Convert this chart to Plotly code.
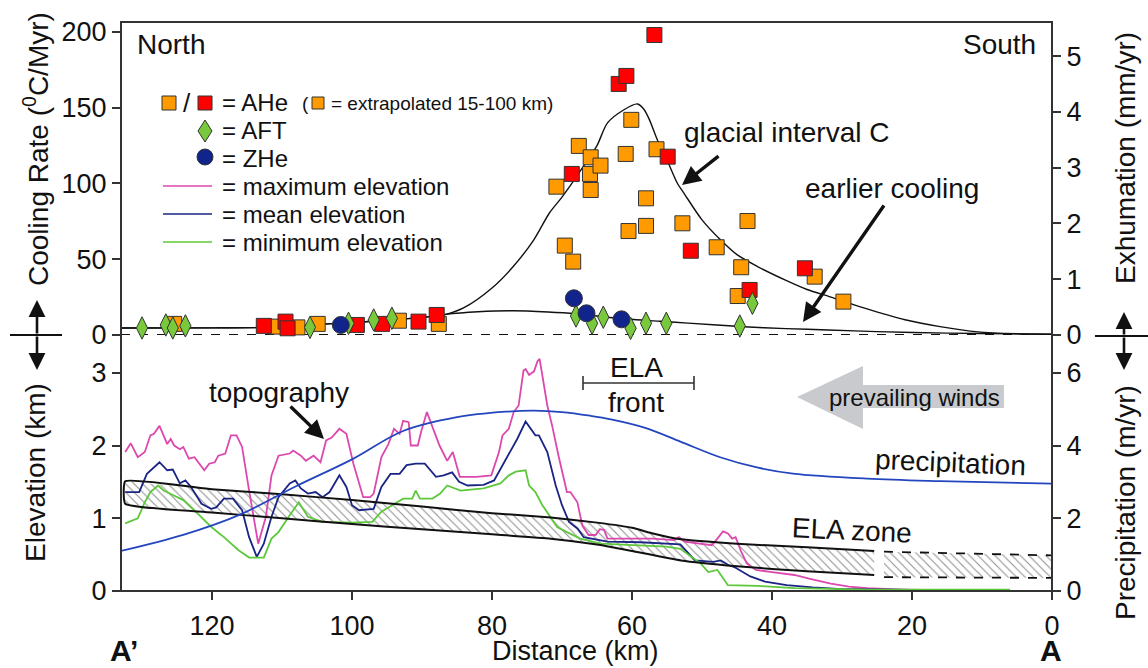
import plotly.graph_objects as go

# ---------------- data ----------------
# Thermochronology cooling rates (km along profile, cooling rate in C/Myr)
ahe_orange_km = [125.4, 110.9, 107.8, 104.9, 93.3, 87.6, 70.8, 69.6, 68.4, 67.6, 65.9, 66.0, 65.9,
                 64.5, 60.9, 60.1, 58.0, 58.0, 60.5, 56.5, 52.8, 47.9, 44.4, 44.9, 43.5, 33.9, 29.8]
ahe_orange_rate = [7.3, 5.5, 5.0, 7.3, 9.4, 7.3, 97.9, 59.0, 48.4, 124.8, 117.3, 106.3, 95.7,
                   111.8, 119.5, 142.0, 90.2, 72.0, 68.6, 122.6, 73.7, 57.9, 44.7, 25.7, 75.2, 38.5, 22.0]
ahe_red_km = [112.6, 109.5, 109.2, 99.3, 95.7, 90.5, 87.9, 68.6, 61.9, 60.8, 56.8, 54.9, 51.6, 43.2, 35.3]
ahe_red_rate = [6.0, 8.8, 4.4, 6.6, 7.3, 8.8, 13.2, 106.3, 165.7, 171.0, 198.0, 117.7, 55.6, 29.7, 44.0]
aft_km = [130.0, 126.6, 125.6, 123.8, 106.0, 100.5, 96.9, 94.3, 68.0, 65.7, 64.1, 60.2, 58.0, 55.1, 44.6, 42.8]
aft_rate = [4.6, 6.6, 4.6, 6.0, 5.0, 7.7, 9.9, 11.0, 12.5, 7.7, 11.7, 4.4, 7.7, 7.7, 5.9, 20.9]
zhe_km = [101.6, 68.3, 66.5, 61.5]
zhe_rate = [6.6, 24.2, 14.3, 10.3]

# Model cooling curves
glacial_curve = [(133, 4.6), (120, 4.7), (113, 4.9), (108, 5.8), (103.5, 7.3), (97, 9.0), (92, 10.8),
                 (88, 12.6), (86.6, 13.6), (84, 18), (80, 31), (77, 45), (74, 63), (71.8, 80.5),
                 (70, 91), (68, 104), (67, 111), (65, 125), (63.5, 140), (61.2, 148.5), (59.2, 152.5),
                 (58.3, 149), (57.5, 142), (56.4, 129), (55, 115.5), (53.5, 100), (52.5, 93),
                 (50, 76), (47.4, 63), (45, 53), (42, 45), (38, 36), (35, 30), (31.6, 25),
                 (27, 18), (21, 10), (16, 5.5), (10.6, 2), (5, 0.8), (0, 0.5)]
earlier_curve = [(133, 4.6), (120, 4.7), (113, 4.9), (108, 5.8), (103.5, 7.3), (97, 9.0), (92, 10.8),
                 (88, 12.6), (86.6, 13.6), (82, 15.3), (77, 16), (72, 15.2), (68, 14), (62, 11),
                 (56, 9), (52, 7.8), (44, 5.4), (38, 4.2), (32, 3.3), (25, 2.2), (15, 1.2),
                 (5, 0.7), (0, 0.5)]

# Topography (km along profile, elevation in km)
max_elev = [(132.4, 1.91), (131.6, 2.03), (130.6, 1.84), (129.6, 1.91), (128.8, 2.14), (128.3, 2.16),
            (127.5, 2.27), (126.4, 2.02), (125.9, 2.09), (125.4, 2.00), (124.6, 1.95), (124.1, 1.98),
            (123.3, 1.82), (122.5, 1.84), (121.1, 1.66), (120.4, 1.75), (119.6, 1.77), (119.1, 1.86),
            (118.1, 1.89), (117.3, 2.14), (116.5, 2.14), (115.7, 1.98), (114.7, 1.38), (113.4, 0.65),
            (112.3, 1.02), (111.5, 1.59), (110.5, 1.86), (108.9, 1.89), (108.4, 1.93), (107.3, 1.86),
            (106.6, 1.79), (105.5, 1.86), (104.5, 1.77), (103.7, 2.07), (102.9, 2.11), (101.8, 2.23),
            (100.8, 2.16), (99.8, 1.75), (98.4, 1.29), (97.4, 1.29), (96.9, 1.34), (95.8, 1.84),
            (94.8, 2.02), (94.0, 2.23), (93.2, 2.16), (92.7, 2.34), (91.9, 2.32), (91.6, 2.00),
            (90.6, 2.00), (90.1, 2.20), (89.3, 2.46), (88.3, 2.20), (87.5, 2.00), (86.4, 1.79),
            (85.6, 1.91), (84.6, 1.57), (82.2, 1.57), (80.1, 1.59), (79.0, 1.91), (78.5, 2.14),
            (77.6, 2.23), (76.9, 2.46), (76.2, 2.55), (75.5, 3.03), (75.2, 3.05), (74.7, 2.97),
            (74.0, 3.02), (73.5, 3.16), (73.2, 3.19), (72.1, 2.55), (71.4, 2.27), (70.5, 1.86),
            (69.3, 1.36), (68.8, 1.36), (67.8, 1.22), (67.1, 0.90), (66.2, 0.77), (65.2, 0.77),
            (64.6, 0.85), (64.0, 0.84), (63.5, 0.72), (61.2, 0.72), (57.0, 0.72), (54.0, 0.70),
            (53.3, 0.74), (52.5, 0.68), (49.9, 0.65), (48.6, 0.63), (47.8, 0.72), (47.0, 0.82),
            (46.3, 0.79), (45.7, 0.72), (45.2, 0.74), (44.4, 0.54), (43.6, 0.38), (42.3, 0.29),
            (40.0, 0.26), (36.8, 0.22), (34.7, 0.17), (31.6, 0.10), (29.0, 0.06), (26.4, 0.04),
            (21.2, 0.02), (16.0, 0.01), (6.0, 0.01)]
mean_elev = [(132.4, 1.36), (130.4, 1.36), (129.3, 1.61), (128.3, 1.70), (127.5, 1.77), (126.4, 1.66),
             (125.6, 1.67), (124.6, 1.48), (123.8, 1.52), (123.0, 1.43), (121.5, 1.20), (120.1, 1.13),
             (119.4, 1.15), (118.3, 1.27), (117.0, 1.27), (115.7, 1.11), (114.7, 0.74), (113.6, 0.47),
             (112.6, 0.65), (111.5, 1.02), (110.5, 1.29), (108.9, 1.48), (108.1, 1.52), (107.3, 1.41),
             (106.3, 1.34), (105.2, 1.36), (104.2, 1.29), (103.2, 1.36), (101.8, 1.59), (100.8, 1.43),
             (100.0, 1.18), (99.0, 1.11), (96.9, 1.13), (95.8, 1.43), (94.5, 1.61), (93.2, 1.61),
             (92.2, 1.73), (90.9, 1.75), (89.6, 1.75), (88.0, 1.57), (86.9, 1.59), (85.7, 1.63),
             (84.7, 1.50), (83.5, 1.45), (81.2, 1.46), (79.7, 1.52), (78.3, 1.77), (76.4, 2.09),
             (75.2, 2.33), (74.5, 2.23), (73.8, 2.14), (73.3, 2.14), (72.1, 1.91), (70.9, 1.45),
             (70.0, 1.18), (69.0, 0.95), (67.8, 0.86), (66.9, 0.74), (65.9, 0.72), (63.5, 0.68),
             (58.8, 0.67), (53.1, 0.64), (51.0, 0.42), (48.4, 0.40), (47.3, 0.42), (46.3, 0.36),
             (45.2, 0.32), (43.1, 0.20), (41.0, 0.13), (37.9, 0.08), (34.2, 0.05), (30.6, 0.03),
             (20.0, 0.015), (6.0, 0.01)]
min_elev = [(132.4, 0.93), (130.6, 1.00), (129.6, 1.22), (128.8, 1.36), (127.7, 1.45), (126.9, 1.38),
            (125.6, 1.32), (124.1, 1.25), (122.0, 1.06), (120.1, 0.88), (118.3, 0.74), (116.2, 0.56),
            (114.7, 0.46), (112.6, 0.46), (111.5, 0.72), (110.5, 0.81), (108.9, 1.04), (107.6, 1.22),
            (106.3, 1.02), (104.2, 0.95), (100.0, 0.94), (97.1, 0.95), (95.8, 1.09), (94.3, 1.18),
            (92.7, 1.27), (91.4, 1.27), (90.9, 1.38), (90.3, 1.27), (88.5, 1.27), (87.4, 1.34),
            (86.4, 1.45), (84.5, 1.38), (81.2, 1.41), (78.8, 1.48), (77.6, 1.59), (76.6, 1.64),
            (75.2, 1.66), (74.7, 1.45), (73.8, 1.36), (72.8, 1.18), (71.6, 1.00), (70.7, 0.88),
            (69.3, 0.81), (67.4, 0.72), (64.5, 0.65), (58.8, 0.63), (55.1, 0.61), (53.1, 0.58),
            (50.2, 0.38), (49.1, 0.26), (47.8, 0.29), (46.3, 0.08), (42.1, 0.07), (36.8, 0.04),
            (26.4, 0.02), (6.0, 0.02)]

# Precipitation (km, m/yr)
precipitation = [(133, 1.10), (124, 1.55), (116, 2.10), (108, 2.88), (100, 3.62), (92.7, 4.40),
                 (85, 4.78), (78, 4.93), (74, 4.96), (70, 4.92), (66, 4.82), (63, 4.72), (58, 4.48),
                 (53, 4.10), (47.3, 3.67), (42, 3.39), (37, 3.23), (26.4, 3.09), (16, 3.02), (0, 2.95)]

# ELA zone (km, elevation km)
ela_upper = [(132.4, 1.51), (120, 1.40), (110, 1.33), (100, 1.25), (90, 1.16), (80, 1.07), (71.6, 1.01),
             (65, 0.94), (60, 0.87), (57, 0.79), (53, 0.71), (45, 0.65), (35, 0.60), (25.4, 0.55)]
ela_lower = [(132.4, 1.20), (120, 1.08), (110, 1.00), (100, 0.92), (90, 0.85), (80, 0.78), (71.6, 0.72),
             (65, 0.64), (60, 0.55), (53, 0.42), (45, 0.34), (35, 0.27), (25.4, 0.22)]
ela_ext_upper = [(24, 0.54), (0, 0.49)]
ela_ext_lower = [(24, 0.19), (0, 0.18)]

x_ticks = [0, 20, 40, 60, 80, 100, 120]
cool_ticks = [0, 50, 100, 150, 200]
exh_ticks = [0, 1, 2, 3, 4, 5]
elev_ticks = [0, 1, 2, 3]
precip_ticks = [0, 2, 4, 6]

# ---------------- styling ----------------
FONT = "Liberation Sans, Arial, Helvetica, sans-serif"
ORANGE = "#FF9A00"
RED = "#FF0000"
GREEN_M = "#79C93C"
BLUE_M = "#10248C"
MAGENTA = "#DC48AE"
NAVY = "#1A2483"
GREEN_L = "#5CC83A"
PRECIP = "#2346BE"
EDGE = "#333333"

W, H = 1148, 668
L, R, T, B = 121, 1052, 22, 591


def PX(x):
    return (x - L) / (R - L)


def PY(y):
    return (B - y) / (B - T)


def unz(pairs):
    return [p[0] for p in pairs], [p[1] for p in pairs]


fig = go.Figure()

hatch = dict(shape="\\", fgcolor="#222", bgcolor="white", size=6, solidity=0.18)

# ----- ELA zone band -----
ux, uy = unz(ela_upper)
lx, ly = unz(ela_lower)
fig.add_trace(go.Scatter(x=ux + lx[::-1], y=uy + ly[::-1], yaxis="y3", mode="lines", fill="toself",
                         fillcolor="white", line=dict(width=0), fillpattern=hatch, hoverinfo="skip"))
eux, euy = unz(ela_ext_upper)
elx, ely = unz(ela_ext_lower)
fig.add_trace(go.Scatter(x=eux + elx[::-1], y=euy + ely[::-1], yaxis="y3", mode="lines", fill="toself",
                         fillcolor="white", line=dict(width=0), fillpattern=hatch, hoverinfo="skip"))

# ----- precipitation -----
px_, py_ = unz(precipitation)
fig.add_trace(go.Scatter(x=px_, y=py_, yaxis="y4", mode="lines", line=dict(color=PRECIP, width=1.8, shape="spline"),
                         hoverinfo="skip"))

# ----- topography -----
for series, col in [(max_elev, MAGENTA), (mean_elev, NAVY), (min_elev, GREEN_L)]:
    sx, sy = unz(series)
    fig.add_trace(go.Scatter(x=sx, y=sy, yaxis="y3", mode="lines", line=dict(color=col, width=1.8),
                             hoverinfo="skip"))

# ELA outline
fig.add_trace(go.Scatter(x=lx[::-1] + ux, y=ly[::-1] + uy, yaxis="y3", mode="lines",
                         line=dict(color="#111", width=2, shape="spline", smoothing=0.4), hoverinfo="skip"))
for ex, ey in [(eux, euy), (elx, ely)]:
    fig.add_trace(go.Scatter(x=ex, y=ey, yaxis="y3", mode="lines",
                             line=dict(color="#111", width=1.8, dash="dash"), hoverinfo="skip"))

# ----- cooling curves -----
for curve in [glacial_curve, earlier_curve]:
    cx, cy = unz(curve)
    fig.add_trace(go.Scatter(x=cx, y=cy, yaxis="y", mode="lines",
                             line=dict(color="#111", width=1.4, shape="spline", smoothing=0.8),
                             hoverinfo="skip", cliponaxis=False))

# ----- thermochronology points -----
mk_line = dict(color=EDGE, width=1)
fig.add_trace(go.Scatter(x=ahe_orange_km, y=ahe_orange_rate, yaxis="y", mode="markers", cliponaxis=False,
                         marker=dict(symbol="square", size=15, color=ORANGE, line=mk_line)))
fig.add_trace(go.Scatter(x=ahe_red_km, y=ahe_red_rate, yaxis="y", mode="markers", cliponaxis=False,
                         marker=dict(symbol="square", size=15, color=RED, line=mk_line)))
fig.add_trace(go.Scatter(x=aft_km, y=aft_rate, yaxis="y", mode="markers", cliponaxis=False,
                         marker=dict(symbol="diamond-tall", size=16, color=GREEN_M, line=mk_line)))
fig.add_trace(go.Scatter(x=zhe_km, y=zhe_rate, yaxis="y", mode="markers", cliponaxis=False,
                         marker=dict(symbol="circle", size=17, color=BLUE_M, line=mk_line)))
# invisible trace so that the exhumation axis is drawn
fig.add_trace(go.Scatter(x=[0], y=[0], yaxis="y2", mode="markers", marker=dict(opacity=0), hoverinfo="skip"))

# ---------------- axes ----------------
tick_common = dict(ticks="outside", ticklen=8, tickwidth=2, tickcolor=EDGE, showgrid=False, zeroline=False,
                   showline=False, tickfont=dict(family=FONT, size=27, color="#111"))
fig.update_layout(
    width=W, height=H,
    margin=dict(l=L, r=W - R, t=T, b=H - B),
    paper_bgcolor="white", plot_bgcolor="white",
    showlegend=False,
    font=dict(family=FONT, color="#111"),
    xaxis=dict(domain=[0, 1], range=[133, 0], anchor="y3", tickvals=x_ticks, ticklabelstandoff=3,
               **tick_common),
    yaxis=dict(domain=[0.45, 1], range=[0, 206.6], anchor="x", tickvals=cool_ticks, **tick_common),
    yaxis2=dict(overlaying="y", side="right", range=[0, 5.615], anchor="x", tickvals=exh_ticks, **tick_common),
    yaxis3=dict(domain=[0, 0.45], range=[0, 3.52], anchor="x", tickvals=elev_ticks, **tick_common),
    yaxis4=dict(overlaying="y3", side="right", range=[0, 7.04], anchor="x", tickvals=precip_ticks, **tick_common),
)

shapes = []
# frame
shapes.append(dict(type="rect", xref="paper", yref="paper", x0=0, x1=1, y0=0, y1=1,
                   line=dict(color=EDGE, width=2), layer="above"))
# dashed zero line of the cooling panel
shapes.append(dict(type="line", xref="x", yref="y", x0=133, x1=0, y0=0, y1=0,
                   line=dict(color="#111", width=2, dash="dash"), layer="below"))
# side separators
for x0, x1, yy in [(10, 62, 335), (1095, 1148, 336)]:
    shapes.append(dict(type="line", xref="paper", yref="paper", x0=PX(x0), x1=PX(x1), y0=PY(yy), y1=PY(yy),
                       line=dict(color="#111", width=2)))
# ELA front bracket
shapes.append(dict(type="line", xref="paper", yref="paper", x0=PX(583), x1=PX(694), y0=PY(383), y1=PY(383),
                   line=dict(color="#333", width=1.6)))
for xx in (583, 694):
    shapes.append(dict(type="line", xref="paper", yref="paper", x0=PX(xx), x1=PX(xx), y0=PY(376), y1=PY(390),
                       line=dict(color="#333", width=1.6)))
# prevailing winds arrow
pts = [(797, 397), (863, 366), (863, 385), (1004, 385), (1004, 408), (863, 408), (863, 429)]
path = "M " + " L ".join(f"{PX(a):.5f},{PY(b):.5f}" for a, b in pts) + " Z"
shapes.append(dict(type="path", xref="paper", yref="paper", path=path, fillcolor="#C9CACD",
                   line=dict(width=0), layer="below"))


# legend swatches
def sq(cx, cy, s, col):
    return dict(type="rect", xref="paper", yref="paper", x0=PX(cx - s / 2), x1=PX(cx + s / 2),
                y0=PY(cy + s / 2), y1=PY(cy - s / 2), fillcolor=col, line=dict(color=EDGE, width=1))


shapes.append(sq(169, 103, 14, ORANGE))
shapes.append(sq(205, 103, 14, RED))
shapes.append(sq(318, 103, 12, ORANGE))
dpts = [(205, 120), (212, 131), (205, 142), (198, 131)]
shapes.append(dict(type="path", xref="paper", yref="paper",
                   path="M " + " L ".join(f"{PX(a):.5f},{PY(b):.5f}" for a, b in dpts) + " Z",
                   fillcolor=GREEN_M, line=dict(color=EDGE, width=1)))
shapes.append(dict(type="circle", xref="paper", yref="paper", x0=PX(197), x1=PX(213), y0=PY(165), y1=PY(149),
                   fillcolor=BLUE_M, line=dict(color=EDGE, width=1)))
for yy, col in [(186, MAGENTA), (214, NAVY), (242, GREEN_L)]:
    shapes.append(dict(type="line", xref="paper", yref="paper", x0=PX(163), x1=PX(212), y0=PY(yy), y1=PY(yy),
                       line=dict(color=col, width=1.6)))
fig.update_layout(shapes=shapes)

# ---------------- texts ----------------
ann = []


def txt(t, x, y, anchor="center", size=28, angle=0, color="#111"):
    ann.append(dict(text=t, x=PX(x), y=PY(y), xref="paper", yref="paper", xanchor=anchor, yanchor="middle",
                    showarrow=False, textangle=angle, font=dict(family=FONT, size=size, color=color)))


txt("North", 135, 44, "left")
txt("South", 1038, 44, "right")
txt("/", 187, 103, "center", 26)
txt("= AHe", 220, 103, "left", 24)
txt("(", 305, 104, "center", 19)
txt("= extrapolated 15-100 km)", 329, 104, "left", 19)
txt("= AFT", 220, 131, "left", 24)
txt("= ZHe", 220, 158, "left", 24)
txt("= maximum elevation", 220, 186, "left", 24)
txt("= mean elevation", 220, 214, "left", 24)
txt("= minimum elevation", 220, 242, "left", 24)
txt("glacial interval C", 682, 132, "left")
txt("earlier cooling", 803, 188, "left")
txt("topography", 207, 392, "left")
txt("ELA", 636, 367)
txt("front", 636, 403)
txt("prevailing winds", 914, 397, "center", 24)
txt("precipitation", 950, 462, "center", 28, 2.5)
txt("ELA zone", 852, 530, "center", 28, 2.5)
txt("Distance (km)", 575, 651, "center", 27)
txt("<b>A’</b>", 124, 650, "center", 30)
txt("<b>A</b>", 1051, 650, "center", 30)
txt("Cooling Rate (<sup>0</sup>C/Myr)", 36, 149, "center", 28, -90)
txt("Elevation (km)", 36, 473, "center", 28, -90)
txt("Exhumation (mm/yr)", 1125, 158, "center", 28, -90)
txt("Precipitation (m/yr)", 1125, 503, "center", 28, -90)


def arrow(tipx, tipy, tailx, taily, width=3.2, size=1.0):
    ann.append(dict(text="", x=PX(tipx), y=PY(tipy), xref="paper", yref="paper", showarrow=True,
                    ax=tailx - tipx, ay=taily - tipy, axref="pixel", ayref="pixel",
                    arrowhead=2, arrowsize=size, arrowwidth=width, arrowcolor="#111", standoff=0))


arrow(682, 185, 720, 155, 3.4, 1.1)
arrow(803, 322, 885, 204, 3.4, 1.1)
arrow(324, 439, 289, 405, 3.4, 1.1)
arrow(37, 300, 37, 335, 2.6, 1.3)
arrow(37, 370, 37, 335, 2.6, 1.3)
arrow(1124, 312, 1124, 336, 2.6, 1.3)
arrow(1124, 370, 1124, 336, 2.6, 1.3)

fig.update_layout(annotations=ann)

fig.write_html("out.html")
